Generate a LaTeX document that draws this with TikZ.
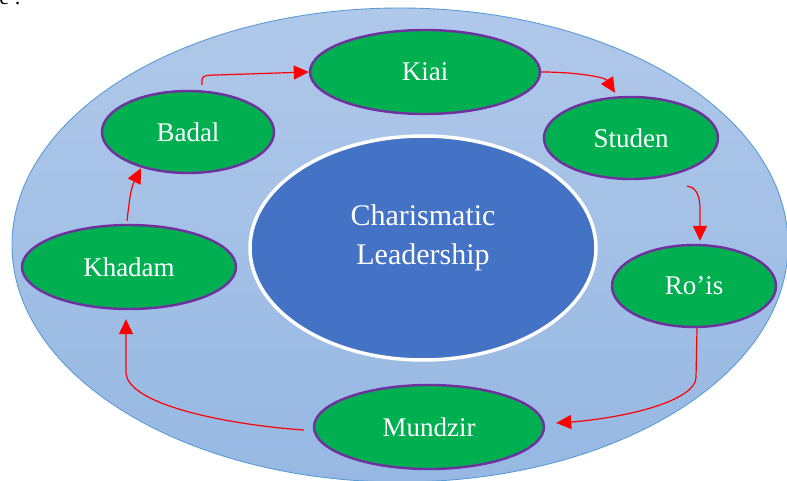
\documentclass[tikz,border=0pt]{standalone}
\usepackage{fontspec}
\setmainfont{Liberation Serif}
\usetikzlibrary{shapes.geometric,arrows.meta,calc}
\definecolor{ringtop}{RGB}{176,200,234}
\definecolor{ringbottom}{RGB}{150,184,226}
\definecolor{ringline}{RGB}{91,155,213}
\definecolor{hubblue}{RGB}{68,114,196}
\definecolor{stagegreen}{RGB}{0,176,80}
\definecolor{stagepurple}{RGB}{112,48,160}
\tikzset{
	stage/.style n args={2}{ellipse,draw=stagepurple,line width=2.4pt,fill=stagegreen,text=white,
		inner sep=0pt,minimum width=#1,minimum height=#2,font=\fontsize{27}{30}\selectfont},
	flow/.style={draw=red,line width=1.2pt,-{Triangle[length=15pt,width=14pt]}}
}
\begin{document}
\begin{tikzpicture}[x=1pt,y=-1pt]
		\useasboundingbox (0,0) rectangle (787,481);
		\node[anchor=base west,inner sep=0pt,font=\fontsize{22}{24}\selectfont] (caption) at (-7,5) {le :};
		% outer ring
		\draw[ringline,line width=0.9pt,top color=ringtop,bottom color=ringbottom] (400,245) ellipse [x radius=388, y radius=237];
		% hub
		\node[ellipse,draw=white,line width=3.5pt,fill=hubblue,minimum width=346pt,minimum height=224pt,inner sep=0pt] (hub) at (423,248) {};
		\node[text=white,align=center,font=\fontsize{30}{39}\selectfont] (hubtext) at (423,238) {Charismatic\\Leadership};
		% stages
		\node[stage={230pt}{84pt}] (kiai) at (425,72) {Kiai};
		\node[stage={172pt}{82pt}] (badal) at (188,132) {Badal};
		\node[stage={174pt}{82pt}] (studen) at (631,138) {Studen};
		\node[stage={214pt}{84pt}] (khadam) at (129,267) {Khadam};
		\node[stage={164pt}{82pt}] (rois) at (694,286) {Ro’is};
		\node[stage={230pt}{84pt}] (mundzir) at (429,427) {Mundzir};
		% cycle
		\draw[flow] ([xshift=14pt,yshift=5pt]badal.north) -- (202,80) .. controls (202,76) and (206,75) .. (216,75) -- (kiai.west);
		\draw[flow] (kiai.east) .. controls (575,72) and (605,77) .. ([xshift=-16pt,yshift=3pt]studen.north);
		\draw[flow] ([xshift=56pt,yshift=-6pt]studen.south) .. controls (697,187) and (700,197) .. (700,210) -- ([xshift=6pt,yshift=3pt]rois.north);
		\draw[flow] ([xshift=3pt]rois.south) -- (696,378) .. controls (695,398) and (640,416) .. (572,422) -- ([xshift=11pt,yshift=4pt]mundzir.east);
		\draw[flow] ([xshift=-9pt,yshift=-3pt]mundzir.west) .. controls (230,425) and (126,405) .. (126,372) -- ([xshift=-3pt,yshift=-9pt]khadam.south);
		\draw[flow] ([xshift=-2pt,yshift=3pt]khadam.north) .. controls (129,205) and (130,190) .. ([xshift=-47pt,yshift=6pt]badal.south);
	\end{tikzpicture}
\end{document}
